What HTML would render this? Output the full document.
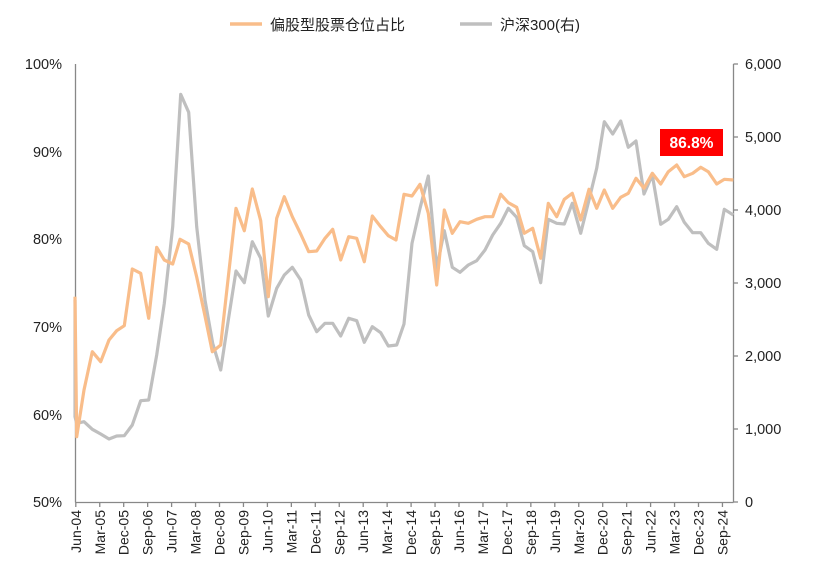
<!DOCTYPE html>
<html><head><meta charset="utf-8"><style>body{margin:0;background:#fff}</style></head><body>
<svg width="815" height="582" xmlns="http://www.w3.org/2000/svg" font-family="Liberation Sans, Noto Sans CJK SC, sans-serif">
<rect width="815" height="582" fill="#fff"/>
<g font-size="15" fill="#222">
<line x1="230" y1="24" x2="262" y2="24" stroke="#F9BD8A" stroke-width="3.5"/>
<text x="270" y="30">偏股型股票仓位占比</text>
<line x1="460" y1="24" x2="492" y2="24" stroke="#BFBFBF" stroke-width="3.5"/>
<text x="500" y="30">沪深300(右)</text>
</g>
<g stroke="#888" stroke-width="1.3">
<line x1="75.5" y1="64" x2="75.5" y2="502.5"/>
<line x1="733.5" y1="64" x2="733.5" y2="502.5"/>
<line x1="75.5" y1="502.5" x2="733.5" y2="502.5"/>
<line x1="733.5" y1="64" x2="738" y2="64"/><line x1="733.5" y1="137" x2="738" y2="137"/><line x1="733.5" y1="210" x2="738" y2="210"/><line x1="733.5" y1="283" x2="738" y2="283"/><line x1="733.5" y1="356" x2="738" y2="356"/><line x1="733.5" y1="429" x2="738" y2="429"/><line x1="733.5" y1="502" x2="738" y2="502"/>
<line x1="75.8" y1="502" x2="75.8" y2="507"/><line x1="99.75" y1="502" x2="99.75" y2="507"/><line x1="123.7" y1="502" x2="123.7" y2="507"/><line x1="147.65" y1="502" x2="147.65" y2="507"/><line x1="171.6" y1="502" x2="171.6" y2="507"/><line x1="195.55" y1="502" x2="195.55" y2="507"/><line x1="219.5" y1="502" x2="219.5" y2="507"/><line x1="243.45" y1="502" x2="243.45" y2="507"/><line x1="267.4" y1="502" x2="267.4" y2="507"/><line x1="291.35" y1="502" x2="291.35" y2="507"/><line x1="315.3" y1="502" x2="315.3" y2="507"/><line x1="339.25" y1="502" x2="339.25" y2="507"/><line x1="363.2" y1="502" x2="363.2" y2="507"/><line x1="387.15" y1="502" x2="387.15" y2="507"/><line x1="411.1" y1="502" x2="411.1" y2="507"/><line x1="435.05" y1="502" x2="435.05" y2="507"/><line x1="459" y1="502" x2="459" y2="507"/><line x1="482.95" y1="502" x2="482.95" y2="507"/><line x1="506.9" y1="502" x2="506.9" y2="507"/><line x1="530.85" y1="502" x2="530.85" y2="507"/><line x1="554.8" y1="502" x2="554.8" y2="507"/><line x1="578.75" y1="502" x2="578.75" y2="507"/><line x1="602.7" y1="502" x2="602.7" y2="507"/><line x1="626.65" y1="502" x2="626.65" y2="507"/><line x1="650.6" y1="502" x2="650.6" y2="507"/><line x1="674.55" y1="502" x2="674.55" y2="507"/><line x1="698.5" y1="502" x2="698.5" y2="507"/><line x1="722.45" y1="502" x2="722.45" y2="507"/>
</g>
<g font-size="14.5" fill="#222" text-anchor="end">
<text x="62" y="69">100%</text><text x="62" y="157">90%</text><text x="62" y="244">80%</text><text x="62" y="332">70%</text><text x="62" y="420">60%</text><text x="62" y="507">50%</text>
</g>
<g font-size="14.5" fill="#222">
<text x="745" y="69">6,000</text><text x="745" y="142">5,000</text><text x="745" y="215">4,000</text><text x="745" y="288">3,000</text><text x="745" y="361">2,000</text><text x="745" y="434">1,000</text><text x="745" y="507">0</text>
</g>
<g font-size="14" fill="#222" text-anchor="end">
<text transform="translate(80.8,510) rotate(-90)">Jun-04</text>
<text transform="translate(104.75,510) rotate(-90)">Mar-05</text>
<text transform="translate(128.7,510) rotate(-90)">Dec-05</text>
<text transform="translate(152.65,510) rotate(-90)">Sep-06</text>
<text transform="translate(176.6,510) rotate(-90)">Jun-07</text>
<text transform="translate(200.55,510) rotate(-90)">Mar-08</text>
<text transform="translate(224.5,510) rotate(-90)">Dec-08</text>
<text transform="translate(248.45,510) rotate(-90)">Sep-09</text>
<text transform="translate(272.4,510) rotate(-90)">Jun-10</text>
<text transform="translate(296.35,510) rotate(-90)">Mar-11</text>
<text transform="translate(320.3,510) rotate(-90)">Dec-11</text>
<text transform="translate(344.25,510) rotate(-90)">Sep-12</text>
<text transform="translate(368.2,510) rotate(-90)">Jun-13</text>
<text transform="translate(392.15,510) rotate(-90)">Mar-14</text>
<text transform="translate(416.1,510) rotate(-90)">Dec-14</text>
<text transform="translate(440.05,510) rotate(-90)">Sep-15</text>
<text transform="translate(464,510) rotate(-90)">Jun-16</text>
<text transform="translate(487.95,510) rotate(-90)">Mar-17</text>
<text transform="translate(511.9,510) rotate(-90)">Dec-17</text>
<text transform="translate(535.85,510) rotate(-90)">Sep-18</text>
<text transform="translate(559.8,510) rotate(-90)">Jun-19</text>
<text transform="translate(583.75,510) rotate(-90)">Mar-20</text>
<text transform="translate(607.7,510) rotate(-90)">Dec-20</text>
<text transform="translate(631.65,510) rotate(-90)">Sep-21</text>
<text transform="translate(655.6,510) rotate(-90)">Jun-22</text>
<text transform="translate(679.55,510) rotate(-90)">Mar-23</text>
<text transform="translate(703.5,510) rotate(-90)">Dec-23</text>
<text transform="translate(727.45,510) rotate(-90)">Sep-24</text>
</g>
<polyline fill="none" stroke="#BFBFBF" stroke-width="3.2" stroke-linejoin="round" points="75,300 75,416.7 76.7,423.3 84,421.7 92.3,429.3 100.7,434 109,439 116.7,436 124.3,435.7 132.3,425 140.7,400.7 148.7,400 156.7,355 164.3,303.3 172.7,226.7 180.7,94.3 188.7,112.3 196.7,226.7 205,300 212.7,343.3 220.7,370 228.3,320 236,271 244.3,282.7 252.3,241.7 260.7,258.3 268.3,316 276.7,288.3 284.3,275 292.3,267.3 300.7,280 308.7,315 316.7,331.7 325,323.3 332.7,323.3 340.7,336 348.7,318.3 356.7,320.7 364.3,342.3 372.3,326.7 380.7,332.7 388.3,346 396.7,345 404,324 412,243.3 420,208.3 428.3,176 436.7,268.3 444.3,230.7 452.3,267.3 460,272.3 468.3,265 476.7,260.7 485,250 492.7,235 500.7,223.3 508.3,208.3 516.7,217.3 524.3,245.7 532.7,251.7 540.7,282.7 548.3,219.3 556.7,223.3 564.3,224 572.3,203.3 580.7,233.3 589,200 596.7,168.3 604.3,121.7 612.7,134 620.7,121 628.3,147.3 636,141 644,194 652.3,175 660.7,224.3 668.3,219.3 676.7,206.7 684.3,222.3 692.7,232.7 700.7,232.7 708.3,243.3 716.7,249.3 724.3,209.3 733.3,215"/>
<polyline fill="none" stroke="#F9BD8A" stroke-width="3.2" stroke-linejoin="round" points="75,296.7 76.7,436.7 84,390 92.3,351.7 100.7,361.7 109,340 116.7,330.7 124.3,325.7 132.3,269 140.7,273.3 148.7,318.3 156.7,247.3 164.3,260 172.7,264 180,239.3 188.7,244 196.7,277 205,316 212.3,351.7 220.7,345 228.3,277 236,208.3 244.3,230.7 252.3,189 260.7,220.7 268.3,296.7 276.7,218.3 284.3,196.7 292.3,216.7 300.7,234 308.7,251.7 316.7,251 325,238.3 332.7,229.3 340.7,260 348.7,236.7 356.7,238.3 364.3,261.7 372.3,216 380.7,226.7 388.3,235.7 396,240 404,194.3 412,196 420,184.3 428.3,213.3 436.7,285 444.3,210 452.3,233.3 460,221.7 468.3,223.3 476.7,219.3 485,216.7 492.7,216.7 500.7,194.3 508.3,202.7 516.7,207.3 524.3,233.3 532.7,228.3 540.7,258.3 548.3,203.3 556.7,216.7 564.3,199.3 572.3,193.3 580.7,220 589,189.3 596.7,208.3 604.3,190 612.7,208.3 620.7,197.3 628.3,193.3 636,178.3 644,188.3 652.3,173.3 660.7,184 668.3,171.7 676.7,165 684.3,176.7 692.7,173.3 700.7,167.3 708.3,171.7 716.7,184 724.3,179.3 733.3,180"/>
<rect x="660" y="129" width="63" height="27" fill="#FF0000"/>
<text x="691.5" y="148" font-size="15.5" font-weight="bold" fill="#fff" text-anchor="middle">86.8%</text>
</svg>
</body></html>
